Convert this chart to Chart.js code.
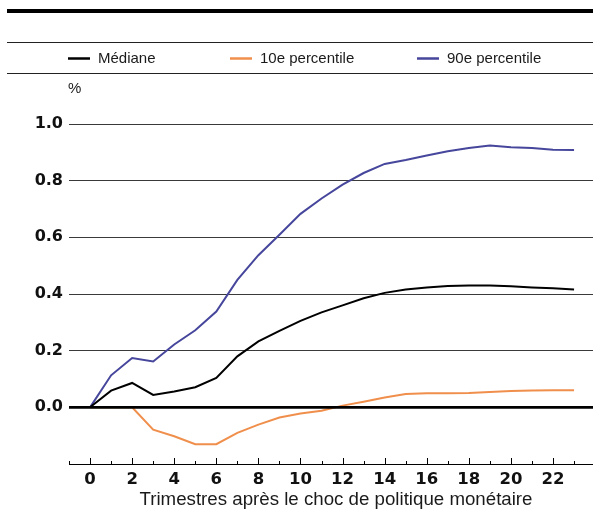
<!DOCTYPE html>
<html>
<head>
<meta charset="utf-8">
<script src="https://cdn.jsdelivr.net/npm/chart.js@4"></script>
<style>
  html, body { margin: 0; padding: 0; background: #fff; }
  #wrap { width: 593px; height: 511px; position: relative; }
</style>
</head>
<body>
<div id="wrap"><canvas id="c" width="593" height="511"></canvas></div>
<script>
const quarters = [0,1,2,3,4,5,6,7,8,9,10,11,12,13,14,15,16,17,18,19,20,21,22,23];
const median = [0, 0.059, 0.086, 0.044, 0.056, 0.071, 0.104, 0.18, 0.233, 0.27, 0.305, 0.335, 0.36, 0.385, 0.404, 0.416, 0.423, 0.428, 0.43, 0.43, 0.427, 0.423, 0.42, 0.416];
const p10 = [0, 0, 0, -0.079, -0.102, -0.13, -0.13, -0.09, -0.061, -0.036, -0.022, -0.012, 0.006, 0.02, 0.035, 0.047, 0.05, 0.05, 0.051, 0.054, 0.058, 0.059, 0.06, 0.06];
const p90 = [0, 0.113, 0.174, 0.162, 0.222, 0.272, 0.338, 0.45, 0.537, 0.609, 0.683, 0.737, 0.786, 0.827, 0.859, 0.873, 0.889, 0.904, 0.915, 0.924, 0.918, 0.915, 0.909, 0.908];
const seriesLabels = ['Médiane', '10e percentile', '90e percentile'];
const seriesColors = ['#000000', '#F08F4C', '#46469C'];
const xTickLabels = ['0','2','4','6','8','10','12','14','16','18','20','22'];
const yTickLabels = ['0.0','0.2','0.4','0.6','0.8','1.0'];
const xTitle = 'Trimestres après le choc de politique monétaire';
const yUnit = '%';

const toXY = arr => quarters.map((q, i) => ({ x: q, y: arr[i] }));
const seriesData = [median, p10, p90];

const deco = {
  id: 'deco',
  afterDatasetsDraw(chart) {
    // zero line drawn over the series
    const ctx = chart.ctx;
    const ys = chart.scales.y;
    const y0 = ys.getPixelForValue(0);
    ctx.save();
    ctx.strokeStyle = '#000';
    ctx.lineWidth = 2.6;
    ctx.beginPath();
    ctx.moveTo(chart.chartArea.left, y0);
    ctx.lineTo(chart.chartArea.right, y0);
    ctx.stroke();
    ctx.restore();
  },
  afterDraw(chart) {
    const ctx = chart.ctx;
    const xs = chart.scales.x;
    const W = chart.width;
    ctx.save();
    // top rules
    ctx.fillStyle = '#000';
    ctx.fillRect(7, 9, W - 7, 4);
    ctx.fillStyle = '#222';
    ctx.fillRect(7, 42, W - 7, 1);
    ctx.fillRect(7, 73, W - 7, 1);
    // legend
    const legX = [68, 230, 417];
    ctx.font = '15px "Liberation Sans", Arial, sans-serif';
    ctx.textBaseline = 'middle';
    ctx.textAlign = 'left';
    chart.data.datasets.forEach((ds, i) => {
      ctx.strokeStyle = ds.borderColor;
      ctx.lineWidth = 2.5;
      ctx.beginPath();
      ctx.moveTo(legX[i], 58.5);
      ctx.lineTo(legX[i] + 22, 58.5);
      ctx.stroke();
      ctx.fillStyle = '#1a1a1a';
      ctx.fillText(ds.label, legX[i] + 30, 58.5);
    });
    // unit
    ctx.fillStyle = '#1a1a1a';
    ctx.fillText(yUnit, 68, 89);
    // x ticks pointing up
    const base = chart.chartArea.bottom;
    ctx.strokeStyle = '#000';
    ctx.lineWidth = 1;
    for (let v = -1; v <= 23; v++) {
      const px = Math.round(xs.getPixelForValue(v)) + 0.5;
      const len = (v % 2 === 0) ? 6 : 3;
      ctx.beginPath();
      ctx.moveTo(px, base);
      ctx.lineTo(px, base - len);
      ctx.stroke();
    }
    // x title
    ctx.font = '18.7px "Liberation Sans", Arial, sans-serif';
    ctx.textAlign = 'center';
    ctx.textBaseline = 'alphabetic';
    ctx.fillStyle = '#1a1a1a';
    ctx.fillText(xTitle, 336, 505);
    ctx.restore();
  }
};

new Chart(document.getElementById('c'), {
  type: 'line',
  data: {
    datasets: seriesLabels.map((lab, i) => ({
      label: lab,
      data: toXY(seriesData[i]),
      borderColor: seriesColors[i],
      backgroundColor: seriesColors[i],
      borderWidth: 2,
      pointRadius: 0,
      tension: 0,
      fill: false
    }))
  },
  options: {
    responsive: false,
    animation: false,
    events: [],
    layout: { padding: { top: 124, left: 0, right: 0, bottom: 0 } },
    plugins: { legend: { display: false }, tooltip: { enabled: false } },
    scales: {
      x: {
        type: 'linear',
        min: -1,
        max: 23.9,
        afterFit: s => { s.height = 47; },
        afterBuildTicks: s => { s.ticks = xTickLabels.map(t => ({ value: Number(t) })); },
        grid: { display: false, drawTicks: false },
        border: { display: true, color: '#000', width: 1 },
        ticks: {
          autoSkip: false,
          maxRotation: 0,
          padding: 6,
          color: '#111',
          font: { family: '"DejaVu Sans", sans-serif', size: 16.5, weight: 'bold' },
          callback: v => xTickLabels.includes(String(v)) ? String(v) : ''
        }
      },
      y: {
        min: -0.2,
        max: 1.0,
        afterFit: s => { s.width = 69; },
        afterBuildTicks: s => { s.ticks = [-0.2].concat(yTickLabels.map(Number)).map(v => ({ value: v })); },
        grid: {
          drawTicks: false,
          color: '#3a3a3a',
          lineWidth: 1
        },
        border: { display: false },
        ticks: {
          padding: 6,
          color: '#111',
          font: { family: '"DejaVu Sans", sans-serif', size: 16, weight: 'bold' },
          callback: v => v < -1e-9 ? '' : yTickLabels.find(t => Math.abs(Number(t) - v) < 1e-9) || ''
        }
      }
    }
  },
  plugins: [deco]
});
</script>
</body>
</html>
